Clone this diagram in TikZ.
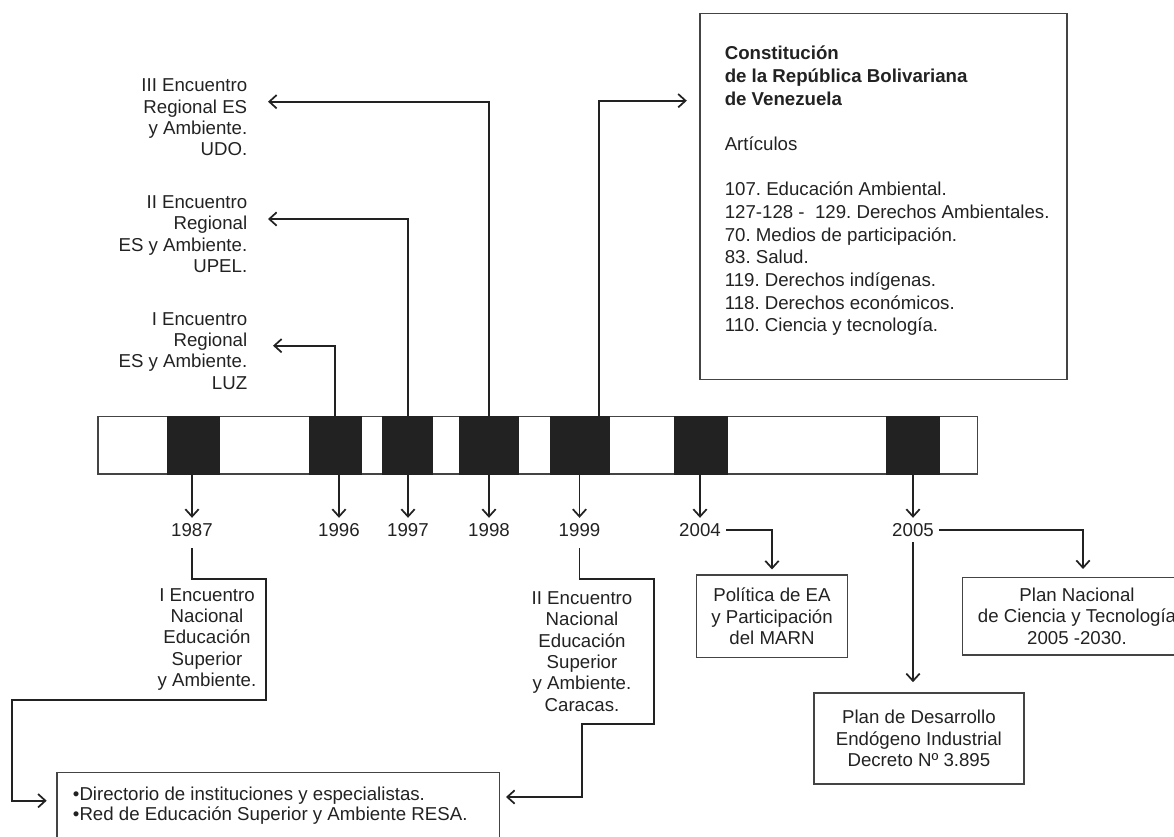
\documentclass[tikz,border=0pt]{standalone}
\usepackage{fontspec}
\setmainfont{Liberation Sans}
\usetikzlibrary{arrows.meta,calc}
\definecolor{ink}{HTML}{222222}
\definecolor{frame}{HTML}{444444}
\frenchspacing

\begin{document}
\begin{tikzpicture}[x=0.75pt,y=-0.75pt,
            font=\fontsize{14}{16}\selectfont,
            text=ink,
            line/.style={draw=ink,line width=1.3pt},
            arr/.style={line,-{Straight Barb[length=5.5pt,width=10pt]}},
            blk/.style={fill=ink,draw=ink,minimum height=43pt,inner sep=0pt},
            yr/.style={inner sep=4pt},
            box/.style={draw=frame,line width=1.2pt,align=center,inner sep=0pt},
            txt/.style={align=center,inner sep=0pt}]
            \useasboundingbox (0,0) rectangle (1174,836);
            \clip (0,0) rectangle (1174,836);

            \node[draw=frame,line width=1.2pt,minimum width=659.7pt,minimum height=43pt] (bar) at (537.5,445.35) {};
            \node[blk,minimum width=38.8pt] (b87) at (193.2,445.35) {};
            \node[blk,minimum width=38.8pt] (b96) at (335.2,445.35) {};
            \node[blk,minimum width=37.5pt] (b97) at (407.7,445.35) {};
            \node[blk,minimum width=44.5pt] (b98) at (488.7,445.35) {};
            \node[blk,minimum width=44.3pt] (b99) at (579.5,445.35) {};
            \node[blk,minimum width=40pt] (b04) at (700.7,445.35) {};
            \node[blk,minimum width=39.6pt] (b05) at (912.9,445.35) {};

            \node[yr] (y87) at (192,530) {1987};
            \node[yr] (y96) at (339,530) {1996};
            \node[yr] (y97) at (408,530) {1997};
            \node[yr] (y98) at (489,530) {1998};
            \node[yr] (y99) at (579.5,530) {1999};
            \node[yr] (y04) at (700,530) {2004};
            \node[yr] (y05) at (913,530) {2005};

            \draw[arr] (b87.south -| y87.north) -- (y87.north);
            \draw[arr] (b96.south -| y96.north) -- (y96.north);
            \draw[arr] (b97.south -| y97.north) -- (y97.north);
            \draw[arr] (b98.south -| y98.north) -- (y98.north);
            \draw[arr] (b99.south -| y99.north) -- (y99.north);
            \draw[arr] (b04.south -| y04.north) -- (y04.north);
            \draw[arr] (b05.south -| y05.north) -- (y05.north);

            \node[txt,align=right,anchor=north east] (e3) at (247.5,78.6) {III Encuentro\\Regional ES\\y Ambiente.\\UDO.};
            \node[txt,align=right,anchor=north east] (e2) at (247.5,195.3) {II Encuentro\\Regional\\ES y Ambiente.\\UPEL.};
            \node[txt,align=right,anchor=north east] (e1) at (247.5,311.9) {I Encuentro\\Regional\\ES y Ambiente.\\LUZ};

            \coordinate (t1) at (273,345.7);
            \coordinate (t2) at (268,219);
            \coordinate (t3) at (268,101.7);
            \coordinate (t4) at (686.8,100.7);
            \draw[arr] (b96.north) |- (t1);
            \draw[arr] (b97.north) |- (t2);
            \draw[arr] (b98.north) |- (t3);
            \draw[arr] ($(b99.north)+(19.5,0)$) |- (t4);

            \node[box,minimum width=275.25pt,minimum height=274.5pt] (cons) at (883.5,196.3) {};
            \node[txt,align=left,anchor=north west,font=\fontsize{14}{17}\selectfont] (constxt) at (724.5,46)
            {\textbf{Constitución}\\\textbf{de la República Bolivariana}\\\textbf{de Venezuela}\\[17pt]
            Artículos\\[17pt]
            107. Educación Ambiental.\\
            127-128 -\ \ 129. Derechos Ambientales.\\
            70. Medios de participación.\\
            83. Salud.\\
            119. Derechos indígenas.\\
            118. Derechos económicos.\\
            110. Ciencia y tecnología.};

            \node[txt,minimum width=88.5pt,minimum height=90.75pt] (n87) at (207,639.5) {I Encuentro\\Nacional\\Educación\\Superior\\y Ambiente.};
            \node[txt,minimum width=108pt,minimum height=108.75pt] (n99) at (582,651.5) {II Encuentro\\Nacional\\Educación\\Superior\\y Ambiente.\\Caracas.};

            \node[box,minimum width=331.95pt,minimum height=55pt,anchor=north west] (resbox) at (56,771.7) {};
            \node[txt,align=left,anchor=north west,font=\fontsize{14}{15}\selectfont] (res) at (72.7,787)
            {•Directorio de instituciones y especialistas.\\•Red de Educación Superior y Ambiente RESA.};

            \coordinate (c87) at (12.3,800.7);
            \coordinate (a87) at (46.7,800.7);
            \coordinate (a99) at (506,797);
            \draw[arr] ([yshift=-4.5pt]y87.south) -- (y87.south |- n87.north) -- (n87.north east) -- (n87.south east) -| (c87) -- (a87);
            \draw[arr] ([yshift=-4.5pt]y99.south) -- (y99.south |- n99.north) -- (n99.north east) -- (n99.south east) -- (n99.south) |- (a99);

            \node[box,minimum width=113pt,minimum height=62pt] (pol) at (772,616.3) {Política de EA\\y Participación\\del MARN};
            \node[box,minimum width=171.5pt,minimum height=58.3pt] (pna) at (1077,616.2) {Plan Nacional\\de Ciencia y Tecnología\\2005 -2030.};
            \node[box,minimum width=157.7pt,minimum height=68.25pt] (pde) at (918.9,738.5) {Plan de Desarrollo\\Endógeno Industrial\\Decreto Nº 3.895};

            \coordinate (a05) at (1083,569);
            \draw[arr,shorten >=3.5pt] (y04.east) -| (pol.north);
            \draw[arr] (y05.east) -| (a05);
            \draw[arr,shorten >=7.5pt] (y05.south) -- (y05.south |- pde.north);
        \end{tikzpicture}
\end{document}
